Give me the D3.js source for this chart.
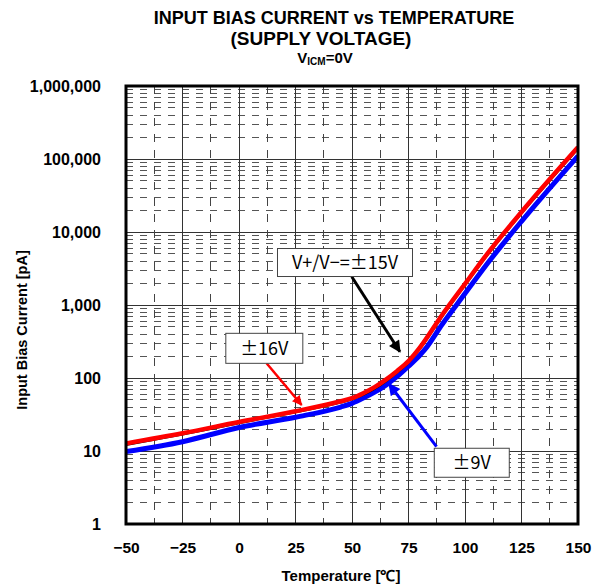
<!DOCTYPE html>
<html><head><meta charset="utf-8">
<script src="https://cdn.jsdelivr.net/npm/d3@7"></script>
<style>
body{margin:0;background:#fff;}
svg{display:block;}
</style></head>
<body>
<svg id="chart" width="597" height="585"></svg>
<script>
// ---- data ----
const temps16 = [-50,-25,0,25,45,50,55,60,65,70,75,80,90,100,110,125,150];
const bias16  = [12.7,17.5,25,35,48,53,62,75,95,125,170,260,740,1950,5100,18800,145000];
const temps15 = [-50,-25,0,25,45,50,55,60,65,70,75,80,90,100,110,125,150];
const bias15  = [12.1,16.8,24,34,46,51,59,71,90,119,162,248,700,1850,4850,17900,137000];
const temps9  = [-50,-25,0,25,45,50,55,60,65,70,75,80,82,90,100,110,125,150];
const bias9   = [9.8,13.4,21,29,40,45,53,64,80,105,145,205,240,550,1435,3730,14000,110000];
const xTicks = [-50,-25,0,25,50,75,100,125,150];
const yTicks = [1,10,100,1000,10000,100000,1000000];
const titleLines = ["INPUT BIAS CURRENT vs TEMPERATURE","(SUPPLY VOLTAGE)"];
const xTitle = "Temperature [℃]";
const yTitle = "Input Bias Current [pA]";
// annotations (data-space anchors)
const notes = [
  {text:"V+/V−=±15V", cx:46.9, cy:3820, w:135, h:28, from:[49.9,2440], to:[71.2,229], color:"#000", sw:3},
  {text:"±16V", cx:11.2, cy:255, w:77, h:30, from:[12.2,159], to:[27.7,42.7], color:"#ff0000", sw:2.5},
  {text:"±9V", cx:103.0, cy:6.9, w:75, h:29, from:[87.4,11.5], to:[66.4,82.8], color:"#0000ff", sw:3}
];

const svg = d3.select("#chart");
const L=126,R=578,T=86,B=524;
const x = d3.scaleLinear().domain([-50,150]).range([L,R]);
const y = d3.scaleLog().domain([1,1e6]).range([B,T]);

// grid
const g = svg.append("g");
const minorVals = [];
yTicks.slice(0,-1).forEach(d=>{for(let k=2;k<=9;k++) minorVals.push(k*d);});
g.selectAll(".hmin").data(minorVals).enter().append("line")
  .attr("x1",L).attr("x2",R).attr("y1",d=>y(d)).attr("y2",d=>y(d))
  .attr("stroke","#555").attr("stroke-width",1).attr("stroke-dasharray","7,7")
  .attr("shape-rendering","crispEdges");
g.selectAll(".hmaj").data(yTicks.slice(1,-1)).enter().append("line")
  .attr("x1",L).attr("x2",R).attr("y1",d=>y(d)).attr("y2",d=>y(d))
  .attr("stroke","#333").attr("stroke-width",1).attr("shape-rendering","crispEdges");
const vMid = xTicks.slice(0,-1).map((d,i)=>(d+xTicks[i+1])/2);
g.selectAll(".vmin").data(vMid).enter().append("line")
  .attr("x1",d=>x(d)).attr("x2",d=>x(d)).attr("y1",T).attr("y2",B)
  .attr("stroke","#444").attr("stroke-width",1).attr("stroke-dasharray","8,8")
  .attr("shape-rendering","crispEdges");
g.selectAll(".vmaj").data(xTicks.slice(1,-1)).enter().append("line")
  .attr("x1",d=>x(d)).attr("x2",d=>x(d)).attr("y1",T).attr("y2",B)
  .attr("stroke","#333").attr("stroke-width",1).attr("shape-rendering","crispEdges");

// clip
svg.append("clipPath").attr("id","clip").append("rect").attr("x",L).attr("y",T).attr("width",R-L).attr("height",B-T);

const line = d3.line().x(d=>x(d[0])).y(d=>y(d[1])).curve(d3.curveMonotoneX);
const series = [
  {t:temps9,v:bias9,color:"#0000ff",w:5},
  {t:temps15,v:bias15,color:"#000000",w:2},
  {t:temps16,v:bias16,color:"#ff0000",w:4.5}
];
const lg = svg.append("g").attr("clip-path","url(#clip)");
series.forEach(s=>{
  lg.append("path").datum(s.t.map((t,i)=>[t,s.v[i]]))
    .attr("d",line).attr("fill","none").attr("stroke",s.color).attr("stroke-width",s.w)
    .attr("stroke-linejoin","round");
});

// border
svg.append("rect").attr("x",L).attr("y",T).attr("width",R-L).attr("height",B-T)
  .attr("fill","none").attr("stroke","#000").attr("stroke-width",3);

// axes
const tf = "Liberation Sans, Arial, sans-serif";
const fmt = d3.format(",");
const xa = svg.append("g").attr("transform",`translate(0,${B})`)
  .call(d3.axisBottom(x).tickValues(xTicks).tickSize(0).tickPadding(18).tickFormat(d=>d<0?"−"+Math.abs(d):d));
xa.select(".domain").remove();
xa.selectAll("text").attr("font-family",tf).attr("font-weight","bold").attr("font-size",15.5).attr("fill","#000");
const ya = svg.append("g").attr("transform",`translate(${L},0)`)
  .call(d3.axisLeft(y).tickValues(yTicks).tickSize(0).tickPadding(25).tickFormat(fmt));
ya.select(".domain").remove();
ya.selectAll("text").attr("font-family",tf).attr("font-weight","bold").attr("font-size",16).attr("fill","#000");

// titles
svg.append("text").attr("x",334).attr("y",24).attr("text-anchor","middle")
  .attr("font-family",tf).attr("font-weight","bold").attr("font-size",18).text(titleLines[0]);
svg.append("text").attr("x",321).attr("y",45).attr("text-anchor","middle")
  .attr("font-family",tf).attr("font-weight","bold").attr("font-size",19).text(titleLines[1]);
const t3 = svg.append("text").attr("x",325).attr("y",63).attr("text-anchor","middle")
  .attr("font-family",tf).attr("font-weight","bold").attr("font-size",15);
t3.append("tspan").text("V");
t3.append("tspan").attr("font-size",10).attr("dy",2).text("ICM");
t3.append("tspan").attr("dy",-2).text("=0V");

svg.append("text").attr("x",341).attr("y",581).attr("text-anchor","middle")
  .attr("font-family",tf).attr("font-weight","bold").attr("font-size",15).text(xTitle);
svg.append("text").attr("transform","translate(27,330) rotate(-90)").attr("text-anchor","middle")
  .attr("font-family",tf).attr("font-weight","bold").attr("font-size",14.5).text(yTitle);

// annotations
const defs = svg.append("defs");
notes.forEach((n,i)=>{
  defs.append("marker").attr("id","ah"+i).attr("viewBox","0 0 10 10").attr("refX",9).attr("refY",5)
    .attr("markerWidth",4.5).attr("markerHeight",4).attr("orient","auto").attr("markerUnits","strokeWidth")
    .append("path").attr("d","M0,0L10,5L0,10z").attr("fill",n.color);
  svg.append("line").attr("x1",x(n.from[0])).attr("y1",y(n.from[1])).attr("x2",x(n.to[0])).attr("y2",y(n.to[1]))
    .attr("stroke",n.color).attr("stroke-width",n.sw).attr("marker-end",`url(#ah${i})`);
  const cx=x(n.cx), cy=y(n.cy);
  svg.append("rect").attr("x",cx-n.w/2).attr("y",cy-n.h/2).attr("width",n.w).attr("height",n.h)
    .attr("fill","#fff").attr("stroke","#444").attr("stroke-width",1);
  svg.append("text").attr("x",cx).attr("y",cy+6.5).attr("text-anchor","middle")
    .attr("font-family","Noto Sans CJK JP, sans-serif").attr("font-size",18).text(n.text);
});
</script>
</body></html>
